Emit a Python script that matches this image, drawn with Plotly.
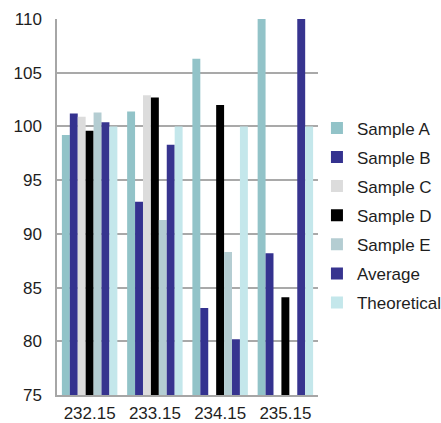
import plotly.graph_objects as go

categories = ["232.15", "233.15", "234.15", "235.15"]
series_names = ["Sample A", "Sample B", "Sample C", "Sample D", "Sample E", "Average", "Theoretical"]
sample_a = [99.2, 101.4, 106.3, 112.0]
sample_b = [101.2, 93.0, 83.1, 88.2]
sample_c = [100.9, 102.9, None, None]
sample_d = [99.6, 102.7, 102.0, 84.1]
sample_e = [101.3, 91.3, 88.3, None]
average = [100.4, 98.3, 80.2, 115.0]
theoretical = [100.0, 100.0, 100.0, 100.0]
y_ticks = [75, 80, 85, 90, 95, 100, 105, 110]

values = [sample_a, sample_b, sample_c, sample_d, sample_e, average, theoretical]
colors = ["#92C3C8", "#34328F", "#DCDCDC", "#000000", "#B4CDD2", "#37348F", "#C4E7EB"]

fig = go.Figure()
for name, vals, col in zip(series_names, values, colors):
    fig.add_trace(go.Bar(x=categories, y=vals, name=name, marker_color=col,
                         marker_line_width=0, legendgroup=name))

font = dict(family="Liberation Sans, Arial, sans-serif", size=17, color="#1E1E1E")
# figure is wider than the 441px window so the legend fits; the window clips the right edge
fig.update_layout(
    width=480, height=423,
    margin=dict(l=57, r=162, t=19, b=28),
    paper_bgcolor="white", plot_bgcolor="white",
    barmode="group", bargap=0.15, bargroupgap=0,
    font=font,
    showlegend=True,
    legend=dict(x=0.996, xanchor="left", y=0.757, yanchor="top",
                bgcolor="rgba(0,0,0,0)", font=font, tracegroupgap=4,
                itemsizing="constant"),
    xaxis=dict(type="category", showgrid=False, showline=True, linecolor="#A6A6A6",
               linewidth=1.5, ticks="", tickfont=font, automargin=False,
               ticklabelstandoff=2),
    yaxis=dict(range=[75, 110], tickvals=y_ticks, showgrid=True, gridcolor="#A9A9A9",
               gridwidth=1.5, showline=True, linecolor="#A6A6A6", linewidth=1.5,
               ticks="", zeroline=False, tickfont=font, ticklabelstandoff=10,
               automargin=False),
)

fig.write_html("out.html", config={"displayModeBar": False},
               post_script="document.body.style.margin='0';document.body.style.padding='0';document.body.style.overflow='hidden';")
